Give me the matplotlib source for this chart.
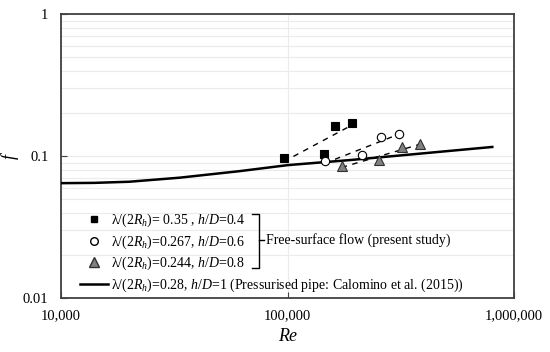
import numpy as np
import matplotlib.pyplot as plt
from matplotlib.lines import Line2D
from matplotlib.ticker import FixedLocator, FuncFormatter, LogLocator

plt.rcParams["font.family"] = "Liberation Serif"
plt.rcParams["mathtext.fontset"] = "custom"
plt.rcParams["mathtext.rm"] = "Liberation Serif"
plt.rcParams["mathtext.it"] = "Liberation Serif:italic"

# free-surface data (present study)
re_035 = [96000, 144000, 161000, 193000]
f_035 = [0.097, 0.103, 0.163, 0.171]
re_0267 = [145600, 212000, 259000, 311000]
f_0267 = [0.092, 0.102, 0.136, 0.143]
re_0244 = [173000, 254000, 321000, 385000]
f_0244 = [0.085, 0.094, 0.116, 0.121]

# pressurised pipe (Calomino et al. 2015)
re_pipe = [10000, 14000, 20000, 33400, 61500, 100000, 187000, 381000, 800000]
f_pipe = [0.0645, 0.0648, 0.0660, 0.0705, 0.0784, 0.0864, 0.0937, 0.104, 0.116]

labels = [
    r"λ/(2$R_h$)= 0.35 , $h/D$=0.4",
    r"λ/(2$R_h$)=0.267, $h/D$=0.6",
    r"λ/(2$R_h$)=0.244, $h/D$=0.8",
    r"λ/(2$R_h$)=0.28, $h/D$=1 (Pressurised pipe: Calomino et al. (2015))",
]

fig = plt.figure(figsize=(5.5, 3.52), dpi=100)
ax = fig.add_axes([0.111, 0.153, 0.824, 0.807])

ax.plot(re_pipe, f_pipe, color="black", lw=1.8, zorder=3)

styles = [
    (re_035, f_035, dict(marker="s", mfc="black", mec="black", ms=5.5)),
    (re_0267, f_0267, dict(marker="o", mfc="white", mec="black", ms=6)),
    (re_0244, f_0244, dict(marker="^", mfc="#808080", mec="#303030", ms=7)),
]
for x, y, st in styles:
    # power-law trend line (dashed)
    k, c = np.polyfit(np.log10(x), np.log10(y), 1)
    xx = np.logspace(np.log10(min(x)), np.log10(max(x)), 20)
    ax.plot(xx, 10 ** (c + k * np.log10(xx)), color="black", lw=1, ls=(0, (4, 4)), zorder=4)
    ax.plot(x, y, ls="none", zorder=5, mew=0.8, **st)

ax.set_xscale("log")
ax.set_yscale("log")
ax.set_xlim(1e4, 1e6)
ax.set_ylim(0.01, 1)

ax.xaxis.set_major_locator(FixedLocator([1e4, 1e5, 1e6]))
ax.xaxis.set_minor_locator(FixedLocator([]))
ax.xaxis.set_major_formatter(FuncFormatter(lambda v, p: f"{v:,.0f}"))
ax.yaxis.set_major_locator(FixedLocator([0.01, 0.1, 1]))
ax.yaxis.set_minor_locator(LogLocator(subs=np.arange(2, 10)))
ax.yaxis.set_major_formatter(FuncFormatter(lambda v, p: f"{v:g}"))
ax.tick_params(which="major", direction="in", length=4, width=0.8, labelsize=10.5, color="#404040")
ax.tick_params(axis="y", which="minor", length=0)
ax.tick_params(axis="y", pad=9)
ax.tick_params(axis="x", pad=8)

ax.grid(True, which="both", axis="y", color="#ebebeb", lw=0.8, zorder=0)
ax.grid(True, which="major", axis="x", color="#ebebeb", lw=0.8, zorder=0)
ax.set_axisbelow(True)
for s in ax.spines.values():
    s.set_color("#404040")
    s.set_linewidth(1.3)

ax.set_xlabel("Re", fontsize=13, style="italic", labelpad=4)
ax.set_ylabel("f", fontsize=13, style="italic")
ax.yaxis.set_label_coords(-0.093, 0.5)

handles = [
    Line2D([], [], ls="none", marker="s", mfc="black", mec="black", ms=5),
    Line2D([], [], ls="none", marker="o", mfc="white", mec="black", ms=5.5, mew=1),
    Line2D([], [], ls="none", marker="^", mfc="#808080", mec="#303030", ms=6.5),
    Line2D([], [], color="black", lw=1.8),
]
ax.legend(handles, labels, loc="upper left", bbox_to_anchor=(0.042, 0.303),
          frameon=False, fontsize=10, handlelength=2.0, handletextpad=0.2,
          labelspacing=0.3, borderpad=0, borderaxespad=0)

# bracket grouping the free-surface series
bx, btop, bbot, bmid = 0.437, 0.297, 0.105, 0.203
ax.plot([bx - 0.016, bx, bx, bx - 0.016], [btop, btop, bbot, bbot],
        color="black", lw=1, transform=ax.transAxes, clip_on=False)
ax.plot([bx, bx + 0.01], [bmid, bmid], color="black", lw=1, transform=ax.transAxes)
ax.text(bx + 0.015, bmid, "Free-surface flow (present study)", transform=ax.transAxes,
        fontsize=10, va="center", ha="left")

fig.savefig("out.png", dpi=100)
